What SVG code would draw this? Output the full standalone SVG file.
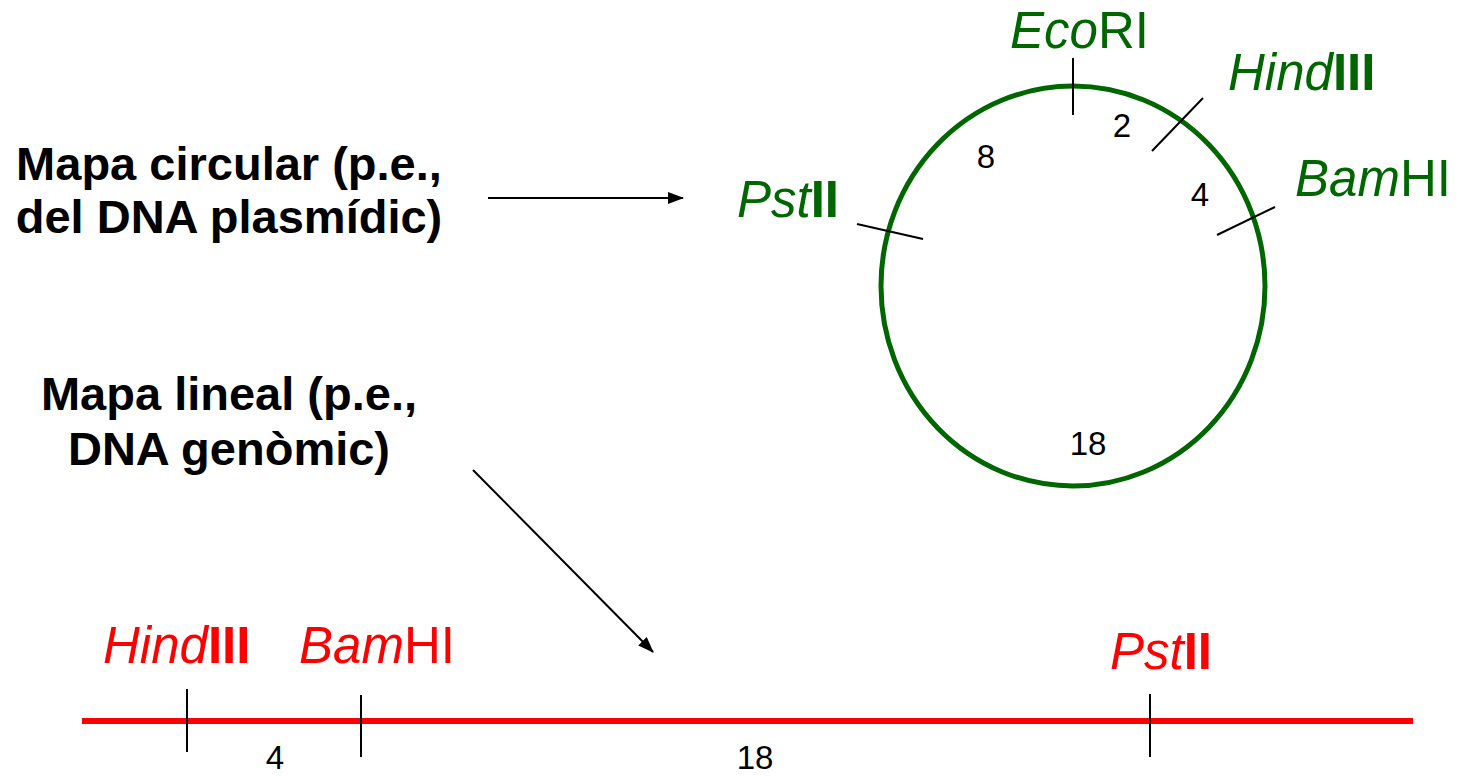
<svg xmlns="http://www.w3.org/2000/svg" width="1462" height="776" viewBox="0 0 1462 776">
<defs>
<marker id="ah" viewBox="0 0 16 12" refX="15" refY="6" markerWidth="16" markerHeight="12" markerUnits="userSpaceOnUse" orient="auto">
<path d="M0,0 L16,6 L0,12 Z" fill="#000"/>
</marker>
<style>
.lbl{font-family:"Liberation Sans",Arial,sans-serif;font-weight:bold;font-size:47px;fill:#000;text-anchor:middle}
.enz{font-family:"Liberation Sans",Arial,sans-serif;font-size:51px}
.g{fill:#006600}
.r{fill:#ff0000}
.it{font-style:italic}
.b{font-weight:bold}
.num{font-family:"Liberation Sans",Arial,sans-serif;font-size:33px;fill:#000;text-anchor:middle}
.tick{stroke:#000;stroke-width:2;fill:none}
.conn{stroke:#000;stroke-width:2;fill:none;marker-end:url(#ah)}
</style>
</defs>
<rect width="1462" height="776" fill="#fff"/>
<g id="label-circular">
<text class="lbl" x="229" y="180">Mapa circular (p.e.,</text>
<text class="lbl" x="229" y="233">del DNA plasmídic)</text>
</g>
<g id="label-lineal">
<text class="lbl" x="229" y="410">Mapa lineal (p.e.,</text>
<text class="lbl" x="229" y="465">DNA genòmic)</text>
</g>
<g id="circular-map">
<ellipse cx="1073" cy="286" rx="192" ry="200" fill="none" stroke="#006600" stroke-width="5"/>
<line class="tick" x1="1073" y1="58" x2="1073" y2="115"/>
<line class="tick" x1="1152" y1="151" x2="1203" y2="98"/>
<line class="tick" x1="1217" y1="235" x2="1275" y2="207"/>
<line class="tick" x1="857" y1="224" x2="923" y2="239"/>
<text class="enz g" x="1010" y="48"><tspan class="it">Eco</tspan>RI</text>
<text class="enz g" x="1228" y="90"><tspan class="it">Hind</tspan><tspan class="b">III</tspan></text>
<text class="enz g" x="1295" y="196"><tspan class="it">Bam</tspan>HI</text>
<text class="enz g" x="737" y="217"><tspan class="it">Pst</tspan><tspan class="b">II</tspan></text>
<text class="num" x="1122" y="137">2</text>
<text class="num" x="986" y="168">8</text>
<text class="num" x="1200" y="206">4</text>
<text class="num" x="1088" y="455">18</text>
</g>
<g id="linear-map">
<line x1="82" y1="721" x2="1413" y2="721" stroke="#ff0000" stroke-width="6"/>
<line class="tick" x1="187" y1="689" x2="187" y2="752"/>
<line class="tick" x1="361" y1="695" x2="361" y2="757"/>
<line class="tick" x1="1150" y1="694" x2="1150" y2="757"/>
<text class="enz r" x="103" y="663"><tspan class="it">Hind</tspan><tspan class="b">III</tspan></text>
<text class="enz r" x="299" y="663"><tspan class="it">Bam</tspan>HI</text>
<text class="enz r" x="1110" y="669"><tspan class="it">Pst</tspan><tspan class="b">II</tspan></text>
<text class="num" x="275" y="769">4</text>
<text class="num" x="755" y="769">18</text>
</g>
<g id="connectors">
<line class="conn" x1="488" y1="198" x2="683" y2="198"/>
<line class="conn" x1="473" y1="470" x2="653" y2="652"/>
</g>
</svg>
